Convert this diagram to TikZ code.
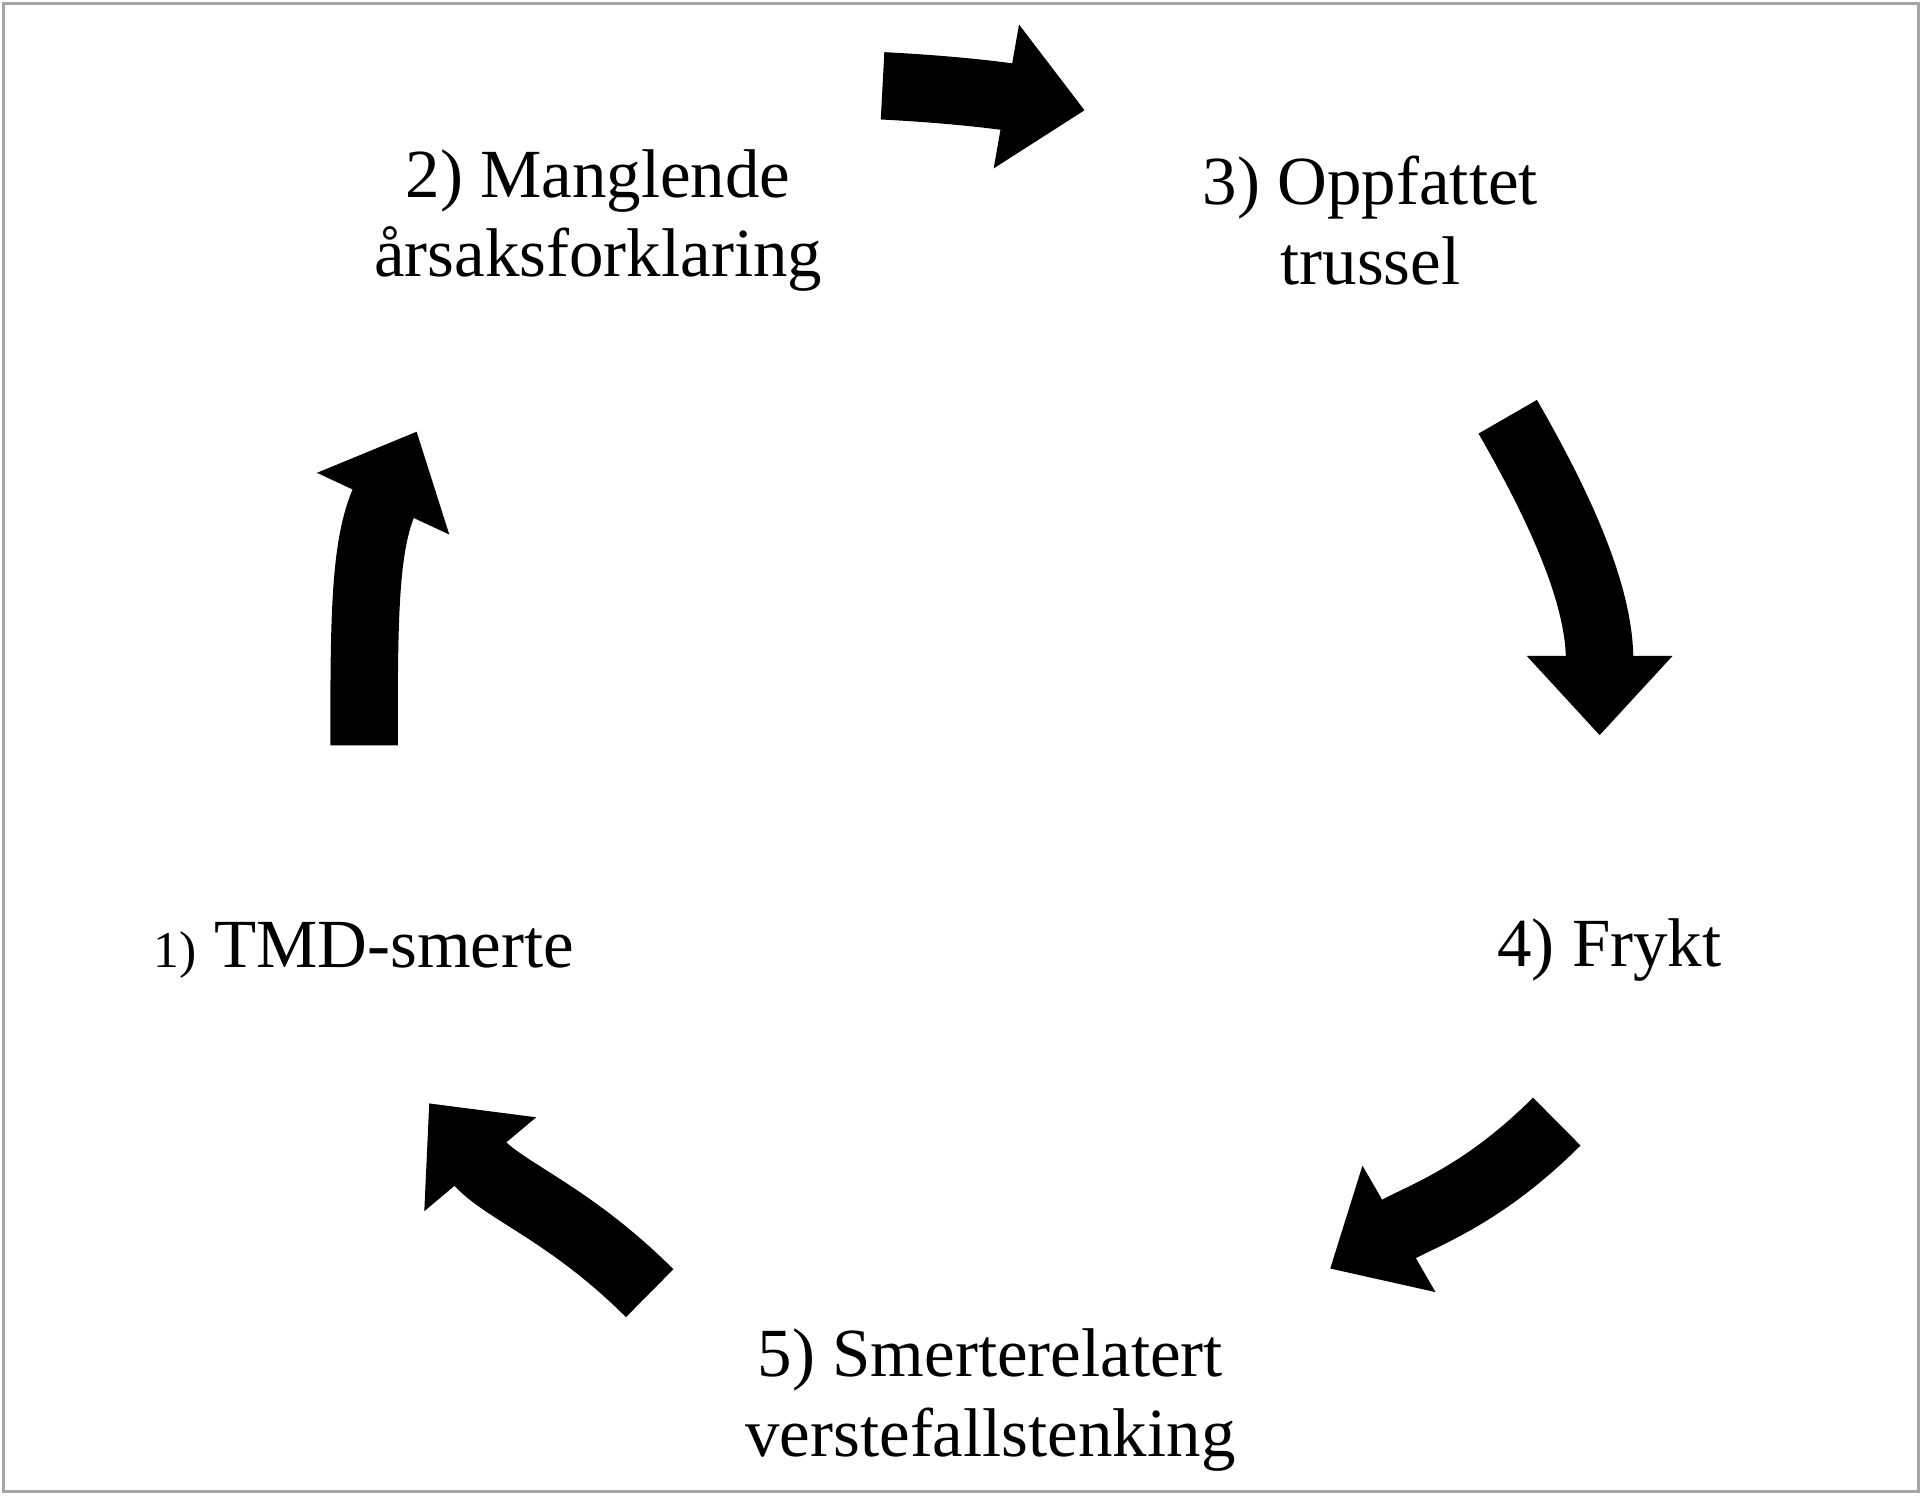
\documentclass[tikz,border=0pt]{standalone}
\usepackage{fontspec}
\setmainfont{Liberation Serif}
\usetikzlibrary{arrows.meta}
\tikzset{
  cyc/.style = {line width = 0.55cm, -{Triangle[width = 1.15cm, length = 0.65cm]}},
  lbl/.style = {align = center, font = \fontsize{16}{18.5}\selectfont}
}
\begin{document}
\begin{tikzpicture}
	\useasboundingbox (0,0) rectangle (15.68,12.20);
	\draw[gray!70, line width = 0.6pt] (0.03,0.03) rectangle (15.65,12.17);

	\node[lbl] (pain)   at (2.97,4.45) {{\fontsize{12}{14}\selectfont 1)} TMD-smerte};
	\node[lbl] (cause)  at (4.88,10.40) {2) Manglende\\årsaksforklaring};
	\node[lbl] (threat) at (11.18,10.40) {3) Oppfattet\\trussel};
	\node[lbl] (fear)   at (13.13,4.45) {4) Frykt};
	\node[lbl] (worst)  at (8.08,0.78) {5) Smerterelatert\\verstefallstenking};

	% arrows
	\coordinate (a1s) at (2.97,6.12);
	\coordinate (a1e) at (3.40,8.68);
	\coordinate (a2s) at (7.20,11.50);
	\coordinate (a2e) at (8.85,11.30);
	\coordinate (a3s) at (12.30,8.80);
	\coordinate (a3e) at (13.05,6.20);
	\coordinate (a4s) at (12.70,3.05);
	\coordinate (a4e) at (10.85,1.85);
	\coordinate (a5s) at (5.30,1.65);
	\coordinate (a5e) at (3.50,3.20);

	\draw[cyc] (a1s) to[out=90, in=-115] (a1e);
	\draw[cyc] (a2s) to[out=-3, in=170] (a2e);
	\draw[cyc] (a3s) to[out=-60, in=90] (a3e);
	\draw[cyc] (a4s) to[out=-135, in=30] (a4e);
	\draw[cyc] (a5s) to[out=135, in=-50] (a5e);
\end{tikzpicture}
\end{document}
